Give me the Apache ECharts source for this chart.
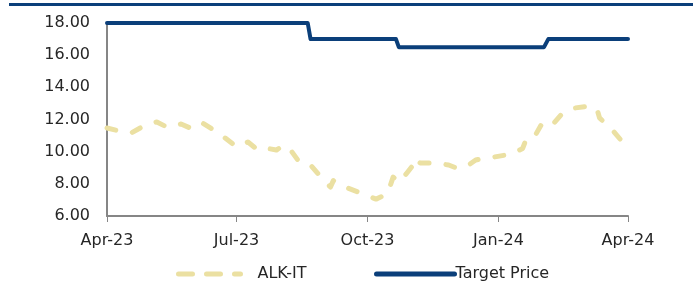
<!DOCTYPE html>
<html>
<head>
<meta charset="utf-8">
<script src="https://cdn.jsdelivr.net/npm/echarts@6/dist/echarts.min.js"></script>
<style>
  html, body { margin: 0; padding: 0; background: #fff; }
  #chart { width: 693px; height: 291px; }
</style>
</head>
<body>
<div id="chart"></div>
<script>
// ALK-IT share price
const priceDates = [
    "2023-04-01", "2023-04-10", "2023-04-18", "2023-04-28", "2023-05-06", "2023-05-13",
    "2023-05-23", "2023-05-31", "2023-06-07", "2023-06-15", "2023-06-23", "2023-07-01",
    "2023-07-09", "2023-07-16", "2023-07-23", "2023-07-29", "2023-08-03", "2023-08-08",
    "2023-08-14", "2023-08-22", "2023-08-31", "2023-09-05", "2023-09-07", "2023-09-12",
    "2023-09-17", "2023-09-28", "2023-10-07", "2023-10-15", "2023-10-19", "2023-10-23",
    "2023-10-28", "2023-11-01", "2023-11-03", "2023-11-07", "2023-11-17", "2023-11-27",
    "2023-12-02", "2023-12-09", "2023-12-16", "2023-12-22", "2023-12-29", "2024-01-10",
    "2024-01-18", "2024-01-21", "2024-01-27", "2024-01-31", "2024-02-04", "2024-02-09",
    "2024-02-15", "2024-02-23", "2024-03-02", "2024-03-10", "2024-03-12", "2024-03-21",
    "2024-03-27"
];
const priceValues = [
    11.47, 11.28, 11.16, 11.66, 11.85, 11.53,
    11.72, 11.41, 11.78, 11.34, 10.85, 10.30,
    10.60, 10.10, 10.20, 10.10, 10.40, 10.10,
    9.36, 9.17, 8.24, 7.80, 8.20, 7.90,
    7.74, 7.37, 7.05, 7.37, 8.42, 8.10,
    8.60, 9.05, 9.60, 9.30, 9.30, 9.17,
    9.00, 9.05, 9.48, 9.60, 9.67, 9.85,
    10.20, 10.90, 11.04, 11.66, 11.47, 11.78,
    12.40, 12.71, 12.80, 12.71, 12.10, 11.35,
    10.72
];

// Target price steps
const targetDates = [
    "2023-04-01", "2023-08-20", "2023-08-22", "2023-10-21", "2023-10-23",
    "2024-02-02", "2024-02-05", "2024-04-01"
];
const targetValues = [18, 18, 17, 17, 16.5, 16.5, 17, 17];

// x axis ticks
const tickDates = ["2023-04-01", "2023-07-01", "2023-10-01", "2024-01-01", "2024-04-01"];
const tickLabels = ["Apr-23", "Jul-23", "Oct-23", "Jan-24", "Apr-24"];

const fontFamily = "DejaVu Sans";
const textColor = "#262626";
const axisColor = "#868686";
const priceColor = "#EBE0A2";
const targetColor = "#0B3F7A";

const toTime = d => echarts.number.parseDate(d).getTime();
const tickTimes = tickDates.map(toTime);

const chart = echarts.init(document.getElementById("chart"));

chart.setOption({
    animation: false,
    graphic: [
        {
            type: "line",
            shape: { x1: 9, y1: 4.5, x2: 693, y2: 4.5 },
            style: { stroke: targetColor, lineWidth: 3 }
        }
    ],
    grid: { left: 107, right: 65, top: 23, bottom: 75 },
    legend: [
        {
            data: [{
                name: "ALK-IT",
                lineStyle: { width: 5, type: [14, 14], cap: "round", color: priceColor },
                itemStyle: { color: "rgba(0,0,0,0)", borderWidth: 0 }
            }],
            left: 176, top: 266, padding: 0,
            itemWidth: 62, itemHeight: 14, itemGap: 0,
            textStyle: { fontFamily: fontFamily, fontSize: 16, color: textColor, padding: [0, 0, 0, 12] }
        },
        {
            data: [{
                name: "Target Price",
                lineStyle: { width: 5, color: targetColor, cap: "round" },
                itemStyle: { color: "rgba(0,0,0,0)", borderWidth: 0 }
            }],
            left: 374, top: 266, padding: 0,
            itemWidth: 78, itemHeight: 14, itemGap: 0,
            textStyle: { fontFamily: fontFamily, fontSize: 16, color: textColor, padding: [0, 0, 0, -4] }
        }
    ],
    xAxis: {
        type: "value",
        min: tickTimes[0],
        max: tickTimes[tickTimes.length - 1],
        axisLine: { lineStyle: { color: axisColor, width: 2 } },
        axisTick: { show: true, customValues: tickTimes, length: 6, lineStyle: { color: axisColor, width: 1 } },
        axisLabel: {
            customValues: tickTimes,
            formatter: (v) => tickLabels[tickTimes.indexOf(v)] || "",
            fontFamily: fontFamily, fontSize: 16, color: textColor, margin: 17,
            showMinLabel: true, showMaxLabel: true
        },
        splitLine: { show: false }
    },
    yAxis: {
        type: "value",
        min: 6, max: 18, interval: 2,
        axisLine: { show: true, lineStyle: { color: axisColor, width: 2 } },
        axisTick: { show: false },
        axisLabel: {
            formatter: (v) => v.toFixed(2),
            fontFamily: fontFamily, fontSize: 16, color: textColor, margin: 17
        },
        splitLine: { show: false }
    },
    series: [
        {
            name: "ALK-IT",
            type: "line",
            data: priceDates.map((d, i) => [toTime(d), priceValues[i]]),
            symbol: "none",
            lineStyle: { color: priceColor, width: 5, type: [9, 17], cap: "round", join: "round" },
            itemStyle: { color: priceColor },
            z: 2
        },
        {
            name: "Target Price",
            type: "line",
            data: targetDates.map((d, i) => [toTime(d), targetValues[i]]),
            symbol: "none",
            lineStyle: { color: targetColor, width: 4, cap: "round", join: "round" },
            itemStyle: { color: targetColor },
            z: 3
        }
    ]
});
</script>
</body>
</html>
